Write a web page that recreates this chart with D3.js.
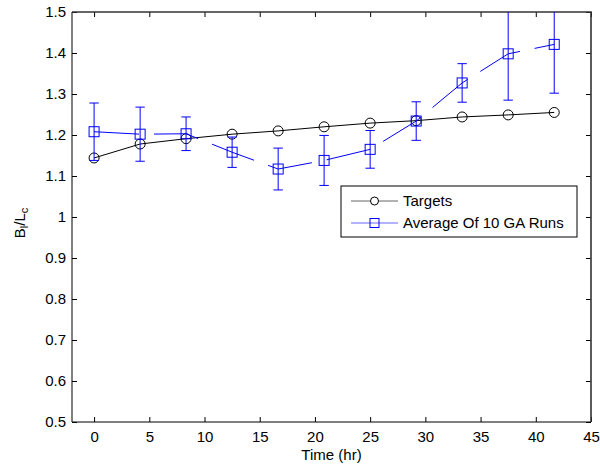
<!DOCTYPE html>
<meta charset="utf-8">
<style>
body { margin: 0; background: #fff; }
svg text { font-family: Arial, "Liberation Sans", sans-serif; font-size: 15px; fill: #000; }
.axis path, .axis line { stroke: #000; }
</style>
<div id="chart"></div>
<script src="https://cdnjs.cloudflare.com/ajax/libs/d3/7.8.5/d3.min.js"></script>
<script>
// time points (hr)
var times = [0, 4.17, 8.33, 12.5, 16.67, 20.83, 25, 29.17, 33.33, 37.5, 41.67];
// target values
var targets = [1.144, 1.178, 1.191, 1.202, 1.210, 1.220, 1.229, 1.235, 1.244, 1.249, 1.255];
// average of 10 GA runs, with error bar half-widths
var gaMean = [1.208, 1.202, 1.203, 1.158, 1.117, 1.138, 1.165, 1.234, 1.327, 1.398, 1.421];
var gaErr = [0.070, 0.066, 0.041, 0.037, 0.051, 0.061, 0.046, 0.047, 0.047, 0.113, 0.119];
var xTicks = [0, 5, 10, 15, 20, 25, 30, 35, 40, 45];
var yTicks = [0.5, 0.6, 0.7, 0.8, 0.9, 1.0, 1.1, 1.2, 1.3, 1.4, 1.5];
var seriesNames = ["Targets", "Average Of 10 GA Runs"];

var W = 600, H = 468;
var pL = 72, pR = 591, pT = 12, pB = 422;

var svg = d3.select("#chart").append("svg")
    .attr("width", W)
    .attr("height", H);

var x = d3.scaleLinear().domain([-2, 45]).range([pL, pR]);
var y = d3.scaleLinear().domain([0.5, 1.5]).range([pB, pT]);

svg.append("clipPath").attr("id", "clip")
  .append("rect")
    .attr("x", pL).attr("y", pT)
    .attr("width", pR - pL).attr("height", pB - pT);

// axes, MATLAB style: ticks inward on all four sides
var fmt = function(d) { return String(+d.toFixed(1)); };
svg.append("g")
    .attr("class", "axis")
    .attr("transform", "translate(0," + pB + ")")
    .call(d3.axisBottom(x).tickValues(xTicks).tickSize(-5).tickSizeOuter(0).tickPadding(6))
    .call(function(g) { g.select(".domain").remove(); g.selectAll("text").attr("y", 6).attr("dy", "0.95em"); });
svg.append("g")
    .attr("class", "axis")
    .attr("transform", "translate(0," + pT + ")")
    .call(d3.axisTop(x).tickValues(xTicks).tickSize(-5).tickFormat(""))
    .call(function(g) { g.select(".domain").remove(); });
svg.append("g")
    .attr("class", "axis")
    .attr("transform", "translate(" + pL + ",0)")
    .call(d3.axisLeft(y).tickValues(yTicks).tickSize(-5).tickFormat(fmt))
    .call(function(g) { g.select(".domain").remove(); g.selectAll("text").attr("x", -6); });
svg.append("g")
    .attr("class", "axis")
    .attr("transform", "translate(" + pR + ",0)")
    .call(d3.axisRight(y).tickValues(yTicks).tickSize(-5).tickFormat(""))
    .call(function(g) { g.select(".domain").remove(); });

// box
svg.append("line").attr("x1", pL).attr("x2", pL).attr("y1", pT).attr("y2", pB).attr("stroke", "#000");
svg.append("line").attr("x1", pL).attr("x2", pR).attr("y1", pB).attr("y2", pB).attr("stroke", "#000");
svg.append("line").attr("x1", pL).attr("x2", pR + 0.8).attr("y1", pT).attr("y2", pT).attr("stroke", "#333").attr("stroke-width", 1.6);
svg.append("line").attr("x1", pR).attr("x2", pR).attr("y1", pT).attr("y2", pB).attr("stroke", "#333").attr("stroke-width", 1.6);

var plot = svg.append("g").attr("clip-path", "url(#clip)");

// targets
var tData = times.map(function(t, i) { return {t: t, v: targets[i]}; });
var line = d3.line().x(function(d) { return x(d.t); }).y(function(d) { return y(d.v); });
plot.append("path")
    .datum(tData)
    .attr("d", line)
    .attr("fill", "none")
    .attr("stroke", "#000");
plot.selectAll(".tdot")
    .data(tData)
  .enter().append("circle")
    .attr("class", "tdot")
    .attr("cx", function(d) { return x(d.t); })
    .attr("cy", function(d) { return y(d.v); })
    .attr("r", 5)
    .attr("fill", "none")
    .attr("stroke", "#000");

// GA runs average with error bars
var gData = times.map(function(t, i) { return {t: t, v: gaMean[i], e: gaErr[i]}; });
var blue = "#0000ff";
plot.append("path")
    .datum(gData)
    .attr("d", line)
    .attr("fill", "none")
    .attr("stroke", blue)
    .attr("stroke-dasharray", "45,15");
var eb = plot.selectAll(".eb")
    .data(gData)
  .enter().append("g")
    .attr("class", "eb")
    .attr("stroke", blue)
    .attr("fill", "none");
eb.append("line")
    .attr("x1", function(d) { return x(d.t); })
    .attr("x2", function(d) { return x(d.t); })
    .attr("y1", function(d) { return y(d.v + d.e); })
    .attr("y2", function(d) { return y(d.v - d.e); });
eb.append("line")
    .attr("x1", function(d) { return x(d.t) - 4.7; })
    .attr("x2", function(d) { return x(d.t) + 4.7; })
    .attr("y1", function(d) { return y(d.v + d.e); })
    .attr("y2", function(d) { return y(d.v + d.e); });
eb.append("line")
    .attr("x1", function(d) { return x(d.t) - 4.7; })
    .attr("x2", function(d) { return x(d.t) + 4.7; })
    .attr("y1", function(d) { return y(d.v - d.e); })
    .attr("y2", function(d) { return y(d.v - d.e); });
eb.append("rect")
    .attr("x", function(d) { return x(d.t) - 5; })
    .attr("y", function(d) { return y(d.v) - 5; })
    .attr("width", 10)
    .attr("height", 10);

// legend
var lg = svg.append("g").attr("transform", "translate(341,186)");
lg.append("rect").attr("width", 236).attr("height", 51).attr("fill", "#fff").attr("stroke", "#000");
var rows = lg.selectAll(".row")
    .data(seriesNames)
  .enter().append("g")
    .attr("class", "row")
    .attr("transform", function(d, i) { return "translate(0," + (15 + i * 22) + ")"; });
rows.append("line")
    .attr("x1", 10).attr("x2", 57)
    .attr("stroke", function(d, i) { return i ? blue : "#000"; })
    .attr("stroke-opacity", 0.6);
rows.each(function(d, i) {
  var g = d3.select(this);
  if (i === 0) {
    g.append("circle").attr("cx", 33.5).attr("r", 4).attr("fill", "#fff").attr("stroke", "#000");
  } else {
    g.append("rect").attr("x", 29).attr("y", -4.5).attr("width", 9).attr("height", 9)
      .attr("fill", "none").attr("stroke", blue);
  }
});
rows.append("text")
    .attr("x", 62)
    .attr("dy", "0.36em")
    .text(function(d) { return d; });

// axis labels
svg.append("text")
    .attr("x", (pL + pR) / 2)
    .attr("y", 460)
    .attr("text-anchor", "middle")
    .text("Time (hr)");
var yl = svg.append("text")
    .attr("text-anchor", "middle")
    .attr("transform", "translate(25,223)rotate(-90)");
yl.append("tspan").text("B");
yl.append("tspan").attr("baseline-shift", "-25%").style("font-size", "11px").text("l");
yl.append("tspan").text("/L");
yl.append("tspan").attr("baseline-shift", "-25%").style("font-size", "11px").text("c");
</script>
